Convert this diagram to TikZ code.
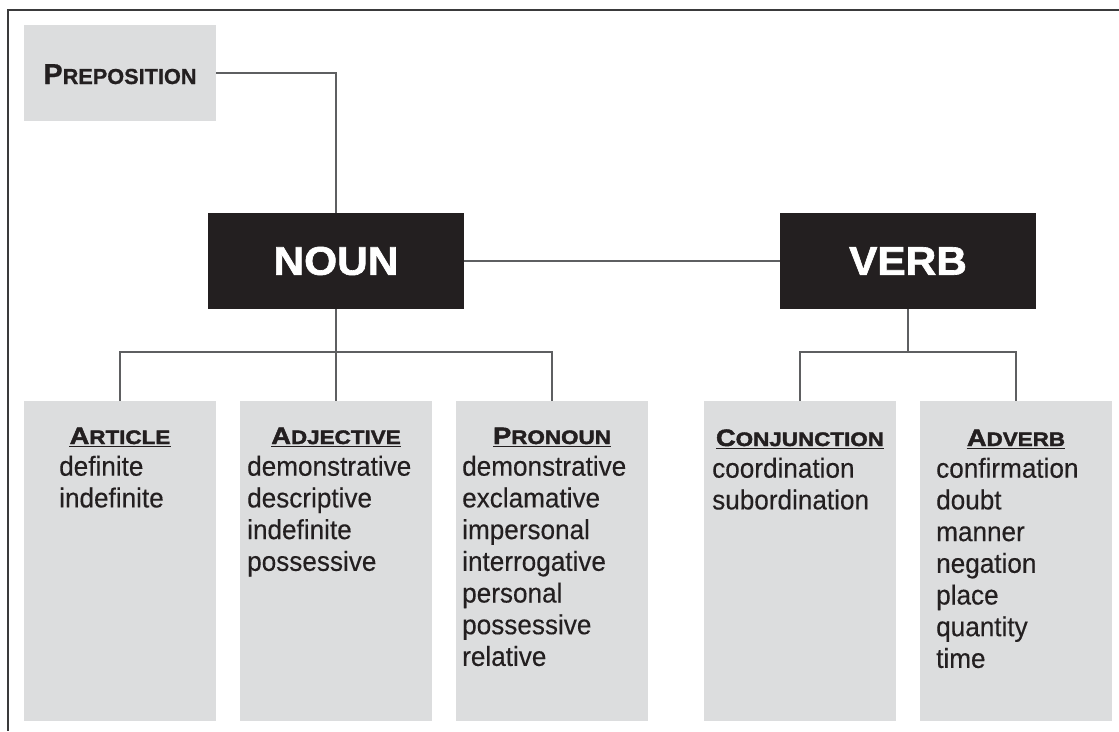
\documentclass[tikz,border=0pt]{standalone}
\usepackage{fontspec}
\setmainfont{Liberation Sans}[FakeStretch=0.95,FakeBold=0.3]
\newfontfamily\hdfont{Liberation Sans Bold}[FakeStretch=1.15,FakeBold=2]
\newfontfamily\prfont{Liberation Sans Bold}[FakeBold=0.8]
\newfontfamily\bigfont{Liberation Sans Bold}[FakeStretch=1.06,FakeBold=1.6]
\definecolor{ink}{HTML}{231F20}
\definecolor{boxgray}{HTML}{DCDDDE}
\definecolor{linegray}{HTML}{5E5F61}
\definecolor{framegray}{HTML}{3A3A3B}
\newcommand\smcap[4]{{\fontsize{#1}{#1}\selectfont #3}{\fontsize{#2}{#2}\selectfont #4}}
\newcommand\hdr[2]{\smcap{23.7}{19.5}{#1}{#2}}
\begin{document}
\begin{tikzpicture}[x=1pt,y=-1pt,
  gbox/.style={fill=boxgray, draw=none, minimum width=192pt, inner sep=0pt},
  tallbox/.style={gbox, minimum height=320pt},
  bbox/.style={fill=ink, draw=none, minimum width=256pt, minimum height=96pt, inner sep=0pt,
    text=white, font=\bigfont\fontsize{40}{40}\selectfont},
  conn/.style={draw=linegray, line width=2pt},
  hd/.style={anchor=base, inner sep=0pt, text=ink, font=\hdfont},
  uline/.style={draw=ink, line width=1.6pt},
  item/.style={anchor=base west, inner sep=0pt, text=ink, font=\fontsize{27.5}{31.7}\selectfont}
]
\useasboundingbox (0,0) rectangle (1119,731);
\fill[white] (0,0) rectangle (1119,731);
% frame
\draw[draw=framegray, line width=2pt] (1119,9.5) -- (8,9.5) -- (8,731);

% top boxes
\node[gbox, minimum height=96pt] (prep) at (120,73) {};
\node[anchor=base, inner sep=0pt, text=ink, font=\prfont] (preptext) at (120,84) {\smcap{28.8}{21.7}{P}{REPOSITION}};
\node[bbox] (noun) at (336,261) {NOUN};
\node[bbox] (verb) at (908,261) {VERB};

% category boxes
\node[tallbox] (art)  at (120,561) {};
\node[tallbox] (adj)  at (336,561) {};
\node[tallbox] (pron) at (552,561) {};
\node[tallbox] (conj) at (800,561) {};
\node[tallbox] (adv)  at (1016,561) {};

% connectors
\coordinate (nb) at (336,352);
\coordinate (vb) at (908,352);
\draw[conn] (prep.east) -| (noun.north);
\draw[conn] (noun.east) -- (verb.west);
\draw[conn] (noun.south) -- (nb);
\draw[conn] (art.north) |- (nb) -| (pron.north);
\draw[conn] (nb) -- (adj.north);
\draw[conn] (verb.south) -- (vb);
\draw[conn] (conj.north) |- (vb) -| (adv.north);

% headings
\node[hd] (hart)  at (120,444)  {\hdr{A}{RTICLE}};
\node[hd] (hadj)  at (336,444)  {\hdr{A}{DJECTIVE}};
\node[hd] (hpron) at (552,444)  {\hdr{P}{RONOUN}};
\node[hd] (hconj) at (800,446)  {\hdr{C}{ONJUNCTION}};
\node[hd] (hadv)  at (1016,446) {\hdr{A}{DVERB}};
\foreach \h in {hart,hadj,hpron,hconj,hadv}
  \draw[uline] ([yshift=-2.6pt]\h.base west) -- ([yshift=-2.6pt]\h.base east);

% items
\foreach \w [count=\i] in {definite,indefinite}
  \node[item] (art-\i) at (59,444+31.7*\i) {\w};
\foreach \w [count=\i] in {demonstrative,descriptive,indefinite,possessive}
  \node[item] (adj-\i) at (247,444+31.7*\i) {\w};
\foreach \w [count=\i] in {demonstrative,exclamative,impersonal,interrogative,personal,possessive,relative}
  \node[item] (pron-\i) at (462,444+31.7*\i) {\w};
\foreach \w [count=\i] in {coordination,subordination}
  \node[item] (conj-\i) at (712,446+31.7*\i) {\w};
\foreach \w [count=\i] in {confirmation,doubt,manner,negation,place,quantity,time}
  \node[item] (adv-\i) at (936,446+31.7*\i) {\w};
\end{tikzpicture}
\end{document}
